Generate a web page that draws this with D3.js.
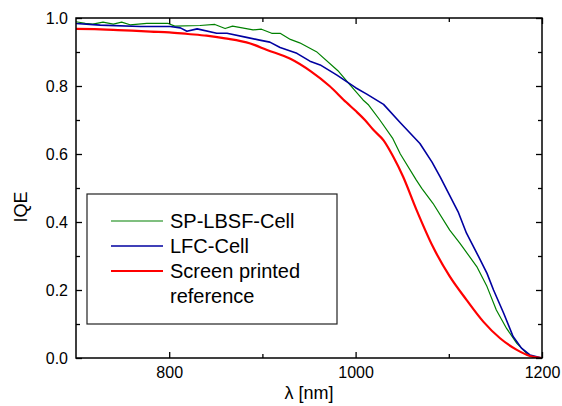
<!DOCTYPE html>
<html>
<head>
<meta charset="utf-8">
<script src="https://cdn.jsdelivr.net/npm/d3@7"></script>
<style>
  html, body { margin: 0; padding: 0; background: #fff; }
  svg { display: block; font-family: "Liberation Sans", Arial, sans-serif; }
</style>
</head>
<body>
<svg id="chart" width="562" height="406"></svg>
<script>
// ---- data ----
const seriesNames = ["SP-LBSF-Cell", "LFC-Cell", "Screen printed reference"];
const seriesColors = ["#008000", "#0000a0", "#ff0000"];

const greenWl  = [700,710,718,729,740,749,758,776,799,806,833,849,860,868,890,899,910,919,930,940,958,981,994,1008,1014,1026,1040,1048,1065,1071,1083,1101,1112,1130,1141,1151,1162,1173,1184,1190,1200];
const greenIqe = [0.989,0.984,0.982,0.988,0.982,0.988,0.980,0.984,0.984,0.976,0.978,0.981,0.969,0.976,0.965,0.967,0.955,0.955,0.937,0.927,0.901,0.845,0.803,0.759,0.744,0.700,0.645,0.600,0.524,0.499,0.455,0.376,0.337,0.269,0.210,0.141,0.087,0.043,0.012,0.003,0.000];

const blueWl  = [700,726,769,801,812,819,830,851,862,883,897,908,919,937,951,962,980,1000,1012,1030,1048,1069,1082,1091,1110,1119,1132,1141,1148,1159,1169,1178,1187,1200];
const blueIqe = [0.984,0.979,0.975,0.975,0.971,0.961,0.968,0.955,0.955,0.943,0.935,0.929,0.913,0.896,0.873,0.862,0.832,0.795,0.776,0.746,0.692,0.631,0.576,0.531,0.430,0.367,0.298,0.249,0.200,0.131,0.063,0.029,0.009,0.000];

const redWl  = [700,720,740,760,780,800,820,840,860,887,905,930,952,972,990,1000,1010,1019,1030,1040,1051,1065,1083,1101,1119,1137,1155,1173,1187,1200];
const redIqe = [0.968,0.967,0.965,0.963,0.960,0.958,0.953,0.948,0.940,0.925,0.906,0.880,0.843,0.800,0.752,0.727,0.700,0.671,0.640,0.594,0.533,0.438,0.327,0.240,0.171,0.107,0.058,0.024,0.006,0.000];

const xTickLabels = [800, 1000, 1200];
const xMinorTicks = [900, 1100];
const yTickLabels = [0.0, 0.2, 0.4, 0.6, 0.8, 1.0];
const yMinorTicks = [0.1, 0.3, 0.5, 0.7, 0.9];

// ---- layout ----
const L = 76, R = 542, T = 18, B = 358;
const svg = d3.select("#chart");
const x = d3.scaleLinear().domain([700, 1200]).range([L, R]);
const y = d3.scaleLinear().domain([0, 1]).range([B, T]);

// series
const series = [
  { name: seriesNames[0], color: seriesColors[0], width: 1.2, curve: d3.curveLinear, pts: greenWl.map((w, i) => [w, greenIqe[i]]) },
  { name: seriesNames[1], color: seriesColors[1], width: 1.6, curve: d3.curveLinear, pts: blueWl.map((w, i) => [w, blueIqe[i]]) },
  { name: seriesNames[2], color: seriesColors[2], width: 2.2, curve: d3.curveMonotoneX, pts: redWl.map((w, i) => [w, redIqe[i]]) }
];

svg.append("defs").append("clipPath").attr("id", "clip")
  .append("rect").attr("x", L).attr("y", T - 2).attr("width", R - L).attr("height", B - T + 2);

const g = svg.append("g").attr("clip-path", "url(#clip)");
series.forEach(s => {
  const line = d3.line().curve(s.curve).x(d => x(d[0])).y(d => y(d[1]));
  g.append("path").datum(s.pts)
    .attr("d", line).attr("fill", "none")
    .attr("stroke", s.color).attr("stroke-width", s.width)
    .attr("stroke-linejoin", "round");
});

// axes
function styleAxis(sel) {
  sel.select(".domain").remove();
  sel.selectAll(".tick line").attr("stroke", "#000").attr("stroke-width", 1.3);
  sel.selectAll(".tick text").attr("fill", "#000").style("font-size", "16px")
     .style("font-family", "'Liberation Sans', Arial, sans-serif");
}
svg.append("g").attr("transform", `translate(0,${B})`)
  .call(d3.axisBottom(x).tickValues(xTickLabels).tickSizeInner(-6).tickSizeOuter(0).tickPadding(9).tickFormat(d3.format("d")))
  .call(styleAxis);
svg.append("g").attr("transform", `translate(0,${B})`)
  .call(d3.axisBottom(x).tickValues(xMinorTicks).tickSizeInner(-4).tickSizeOuter(0).tickFormat(""))
  .call(styleAxis);
svg.append("g").attr("transform", `translate(0,${T})`)
  .call(d3.axisTop(x).tickValues(xTickLabels).tickSizeInner(-6).tickSizeOuter(0).tickFormat(""))
  .call(styleAxis);
svg.append("g").attr("transform", `translate(0,${T})`)
  .call(d3.axisTop(x).tickValues(xMinorTicks).tickSizeInner(-4).tickSizeOuter(0).tickFormat(""))
  .call(styleAxis);
svg.append("g").attr("transform", `translate(${L},0)`)
  .call(d3.axisLeft(y).tickValues(yTickLabels).tickSizeInner(-6).tickSizeOuter(0).tickPadding(8).tickFormat(d3.format(".1f")))
  .call(styleAxis);
svg.append("g").attr("transform", `translate(${L},0)`)
  .call(d3.axisLeft(y).tickValues(yMinorTicks).tickSizeInner(-4).tickSizeOuter(0).tickFormat(""))
  .call(styleAxis);
svg.append("g").attr("transform", `translate(${R},0)`)
  .call(d3.axisRight(y).tickValues(yTickLabels).tickSizeInner(-6).tickSizeOuter(0).tickFormat(""))
  .call(styleAxis);
svg.append("g").attr("transform", `translate(${R},0)`)
  .call(d3.axisRight(y).tickValues(yMinorTicks).tickSizeInner(-4).tickSizeOuter(0).tickFormat(""))
  .call(styleAxis);

// frame
svg.append("rect").attr("x", L).attr("y", T).attr("width", R - L).attr("height", B - T)
  .attr("fill", "none").attr("stroke", "#000").attr("stroke-width", 1.5);

// axis titles
svg.append("text").attr("x", (L + R) / 2).attr("y", 399).attr("text-anchor", "middle")
  .style("font-size", "18px").text("λ [nm]");
svg.append("text").attr("transform", "translate(27,207) rotate(-90)").attr("text-anchor", "middle")
  .style("font-size", "18px").text("IQE");

// legend
const lg = svg.append("g");
lg.append("rect").attr("x", 87).attr("y", 194).attr("width", 250).attr("height", 130)
  .attr("fill", "#fff").attr("stroke", "#222").attr("stroke-width", 1.2);
const legendRows = [
  { s: series[0], lines: ["SP-LBSF-Cell"] },
  { s: series[1], lines: ["LFC-Cell"] },
  { s: series[2], lines: ["Screen printed", "reference"] }
];
const rowY = [221, 246, 271];
legendRows.forEach((r, i) => {
  lg.append("line").attr("x1", 111).attr("x2", 163).attr("y1", rowY[i]).attr("y2", rowY[i])
    .attr("stroke", r.s.color).attr("stroke-width", r.s.width);
  r.lines.forEach((t, j) => {
    lg.append("text").attr("x", 170).attr("y", rowY[i] + 7 + j * 25)
      .style("font-size", "20px").text(t);
  });
});
</script>
</body>
</html>
